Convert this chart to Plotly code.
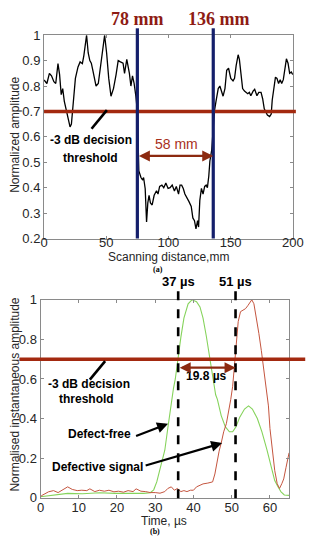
import plotly.graph_objects as go

# ---------------- data: panel (a) ----------------
scan_mm = [0, 2.3, 4.3, 6, 7.9, 9.4, 11.2, 12.5, 13.8, 15, 16.3, 18.9, 20.9, 22, 23.3, 25.2, 27.3, 29,
           30.8, 32, 34.2, 35.5, 36.8, 38, 39.3, 41.8, 43.6, 45, 46.8, 48.7, 50.3, 52, 53.8, 55.8, 57.9,
           59.6, 61.4, 63.5, 64.7, 66.5, 68.6, 69.8, 71.1, 72.4, 73.8, 75, 76.2, 77.9, 79.3, 80, 81.3,
           81.8, 82.4, 83.4, 84.4, 85.5, 86.9, 88.5, 90.4, 91.6, 92.9, 94.7, 96.2, 97.9, 99.7, 101.3,
           103, 104.8, 106.3, 108.1, 109.3, 110.6, 111.9, 113.2, 115, 116.5, 118.3, 119.6, 120.9, 122.1,
           123.4, 124.2, 125.2, 126.5, 127.8, 129.1, 130.3, 131.3, 132.4, 133.3, 134.8, 136, 136.9,
           138.2, 140, 141.3, 142.6, 143.9, 145.4, 146.8, 148.3, 150.1, 151.9, 153.1, 154.4, 156, 157,
           158.3, 159.6, 161.1, 162.4, 163.7, 165, 166.2, 168, 169.3, 171.1, 172.6, 174.4, 175.7, 177,
           178.2, 179.5, 181.3, 182.6, 183.4, 184.7, 186, 187.2, 188.5, 189.8, 191, 192.3, 193.6, 194.8,
           196.1, 197.4, 198.7, 200]
norm_amp = [0.824, 0.81, 0.85, 0.84, 0.817, 0.81, 0.888, 0.845, 0.766, 0.79, 0.74, 0.683, 0.639, 0.65,
            0.72, 0.83, 0.875, 0.895, 0.888, 0.92, 1.0, 0.93, 0.9, 0.89, 0.86, 0.8, 0.81, 0.865, 0.935,
            1.0, 0.93, 0.83, 0.76, 0.79, 0.845, 0.9, 0.895, 0.89, 0.85, 0.905, 0.85, 0.8, 0.84, 0.81,
            0.76, 0.7, 0.466, 0.44, 0.43, 0.44, 0.396, 0.307, 0.265, 0.34, 0.37, 0.34, 0.332, 0.37, 0.388,
            0.375, 0.405, 0.41, 0.4, 0.418, 0.397, 0.4, 0.41, 0.387, 0.405, 0.375, 0.41, 0.41, 0.397,
            0.375, 0.355, 0.345, 0.326, 0.281, 0.27, 0.238, 0.27, 0.245, 0.35, 0.397, 0.375, 0.405, 0.41,
            0.4, 0.445, 0.505, 0.55, 0.62, 0.7, 0.74, 0.79, 0.8, 0.78, 0.76, 0.79, 0.862, 0.87, 0.83,
            0.82, 0.83, 0.88, 0.923, 0.905, 0.845, 0.79, 0.78, 0.775, 0.77, 0.775, 0.762, 0.78, 0.787,
            0.762, 0.775, 0.775, 0.75, 0.71, 0.7, 0.686, 0.68, 0.69, 0.745, 0.8, 0.835, 0.83, 0.81, 0.825,
            0.81, 0.825, 0.87, 0.907, 0.89, 0.85, 0.855, 0.845]
boundary_mm = [75, 136]
boundary_labels = ["78 mm", "136 mm"]
width_label_a = "58 mm"
threshold = 0.7

# ---------------- data: panel (b) ----------------
t_free = [0, 3, 7.1, 11, 15.4, 19.5, 23.8, 27, 28.7, 29.6, 30.4, 31.25, 32.5, 33.35, 34.2, 34.75, 35.25,
          35.85, 36.7, 37.5, 38.6, 39.6, 40.8, 41.7, 42.5, 43.35, 44.2, 45, 45.8, 46.25, 47.25, 48.35,
          49.4, 50.25, 51.1, 52.1, 53.35, 54.4, 55.4, 56.7, 57.9, 59.2, 60.4, 61.25, 62.1, 62.9, 63.75, 65]
amp_free = [0.005, 0.012, 0.022, 0.02, 0.025, 0.022, 0.02, 0.022, 0.025, 0.04, 0.08, 0.14, 0.24, 0.36,
            0.48, 0.55, 0.6, 0.7, 0.81, 0.907, 0.98, 1.0, 0.99, 0.964, 0.907, 0.817, 0.71, 0.596, 0.52,
            0.497, 0.415, 0.358, 0.333, 0.333, 0.358, 0.407, 0.448, 0.464, 0.448, 0.4, 0.333, 0.243,
            0.153, 0.087, 0.055, 0.03, 0.014, 0.012]
t_defect = [0, 0.4, 2.1, 3.4, 4.6, 5.8, 7.1, 8.3, 9.6, 10.8, 12.1, 12.9, 14.2, 15.4, 16.7, 17.9, 19.2,
            20.4, 21.7, 22.9, 24.2, 25, 26.25, 27.5, 28.7, 30, 31.25, 32.5, 33.3, 34.2, 35, 35.8, 36.7,
            37.5, 38.3, 39.2, 40, 40.8, 41.7, 42.5, 43.75, 45, 45.6, 46.1, 46.7, 47.25, 47.9, 48.6, 49.2,
            49.75, 50.25, 50.85, 51.25, 51.7, 52.3, 52.9, 53.6, 54.2, 54.8, 55.25, 55.8, 56.4, 57.1,
            57.75, 58.35, 58.9, 59.6, 60, 60.6, 61.25, 61.9, 62.5, 63.1, 63.6, 64.2, 64.6, 65]
amp_defect = [0.005, 0.012, 0.03, 0.036, 0.026, 0.038, 0.055, 0.042, 0.036, 0.038, 0.036, 0.045, 0.031,
              0.038, 0.033, 0.038, 0.03, 0.033, 0.028, 0.036, 0.031, 0.045, 0.033, 0.031, 0.026, 0.026,
              0.023, 0.031, 0.047, 0.055, 0.038, 0.047, 0.031, 0.036, 0.031, 0.038, 0.038, 0.055, 0.063,
              0.07, 0.074, 0.08, 0.12, 0.178, 0.235, 0.276, 0.333, 0.374, 0.43, 0.497, 0.563, 0.694,
              0.81, 0.89, 0.94, 0.947, 0.955, 0.97, 0.99, 1.0, 0.98, 0.92, 0.83, 0.743, 0.66, 0.58,
              0.464, 0.35, 0.235, 0.137, 0.071, 0.047, 0.071, 0.095, 0.153, 0.2, 0.227]
edge_us = [36, 51]
edge_labels = ["37 \u00b5s", "51 \u00b5s"]
width_label_b = "19.8 \u00b5s"

# ---------------- figure ----------------
W, H = 322, 550
def px(v):
    return v / W
def py(v):
    return 1 - v / H

AX = dict(left_a=42, right_a=303, top_a=29, bot_a=238,
          left_b=38.3, right_b=299, top_b=301, bot_b=504.5)

RED = "#a3290f"
NAVY = "#141f6b"
TXT = "#262626"
FRAME = "#8a8a8a"
SANS = "Liberation Sans"
SERIF = "Liberation Serif"

fig = go.Figure()
fig.add_trace(go.Scatter(x=scan_mm, y=norm_amp, mode="lines",
                         line=dict(color="black", width=1.3), xaxis="x", yaxis="y",
                         showlegend=False, hoverinfo="skip"))
fig.add_trace(go.Scatter(x=t_free, y=amp_free, mode="lines",
                         line=dict(color="#86d35c", width=1.1), xaxis="x2", yaxis="y2",
                         showlegend=False, hoverinfo="skip"))
fig.add_trace(go.Scatter(x=t_defect, y=amp_defect, mode="lines",
                         line=dict(color="#c4553f", width=1.0), xaxis="x2", yaxis="y2",
                         showlegend=False, hoverinfo="skip"))

axis_common = dict(showgrid=False, zeroline=False, showline=True, linecolor=FRAME, linewidth=1,
                   mirror="ticks", ticks="inside", ticklen=3, tickcolor=FRAME,
                   tickfont=dict(family=SANS, size=13, color=TXT))

fig.update_layout(
    width=W, height=H, margin=dict(l=0, r=0, t=0, b=0),
    paper_bgcolor="white", plot_bgcolor="white",
    xaxis=dict(domain=[px(AX["left_a"]), px(AX["right_a"])], range=[0, 200], tickvals=[0, 50, 100, 150, 200],
               anchor="y", ticklabelstandoff=-8, **axis_common),
    yaxis=dict(domain=[py(AX["bot_a"]), py(AX["top_a"])], range=[0.2, 1],
               tickvals=[0.2, 0.3, 0.4, 0.5, 0.6, 0.7, 0.8, 0.9, 1],
               ticktext=["0.2", "0.3", "0.4", "0.5", "0.6", "0.7", "0.8", "0.9", "1"],
               anchor="x", **axis_common),
    xaxis2=dict(domain=[px(AX["left_b"]), px(AX["right_b"])], range=[0, 65], tickvals=[0, 10, 20, 30, 40, 50, 60],
                anchor="y2", ticklabelstandoff=-2, **axis_common),
    yaxis2=dict(domain=[py(AX["bot_b"]), py(AX["top_b"])], range=[0, 1],
                tickvals=[0, 0.2, 0.4, 0.6, 0.8, 1], ticktext=["0", "0.2", "0.4", "0.6", "0.8", "1"],
                anchor="x2", **axis_common),
)

shapes = []
# threshold lines
shapes.append(dict(type="line", xref="x domain", yref="y", x0=0, x1=1.012, y0=threshold, y1=threshold,
                   line=dict(color=RED, width=3.5)))
shapes.append(dict(type="line", xref="x2 domain", yref="y2", x0=-0.085, x1=1.065, y0=threshold, y1=threshold,
                   line=dict(color=RED, width=3.5)))
# boundary verticals (a)
for b in boundary_mm:
    shapes.append(dict(type="line", xref="x domain", yref="y domain", x0=b / 200, x1=b / 200,
                       y0=0, y1=1.034, line=dict(color=NAVY, width=3.2)))
# dashed verticals (b)
for e in edge_us:
    shapes.append(dict(type="line", xref="x2 domain", yref="y2 domain", x0=e / 65, x1=e / 65,
                       y0=-0.003, y1=1.07, line=dict(color="black", width=2.6, dash="dash")))
# leader lines for threshold labels
shapes.append(dict(type="line", xref="x", yref="y", x0=38.2, y0=0.632, x1=50.5, y1=0.705,
                   line=dict(color="black", width=2.6)))
shapes.append(dict(type="line", xref="x2", yref="y2", x0=12.9, y0=0.597, x1=16.9, y1=0.69,
                   line=dict(color="black", width=2.6)))
fig.update_layout(shapes=shapes)

ann = []
def text(x, y, s, size=12, color="black", family=SANS, bold=False, xref="paper", yref="paper", angle=0):
    ann.append(dict(x=x, y=y, xref=xref, yref=yref, text=("<b>%s</b>" % s) if bold else s,
                    showarrow=False, textangle=angle, xanchor="center", yanchor="middle",
                    font=dict(family=family, size=size, color=color)))

# boundary labels
text(px(140), py(12), boundary_labels[0], size=18, color="#8e1c14", family=SERIF, bold=True)
text(px(225), py(12), boundary_labels[1], size=18, color="#8e1c14", family=SERIF, bold=True)
# 58 mm
text(px(180.5), py(141), width_label_a, size=14, color="#a8301c")
ann.append(dict(x=boundary_mm[1], y=0.525, ax=boundary_mm[0], ay=0.525, xref="x", yref="y",
                axref="x", ayref="y", showarrow=True, arrowhead=2, arrowsize=1, arrowwidth=2.2,
                arrowside="end+start", arrowcolor="#8c2a10", text=""))
# threshold text (a)
text(px(91.5), py(137), "-3 dB decision", size=12, bold=True)
text(px(91), py(155), "threshold", size=12, bold=True)
# axis titles (a)
text(px(12), py(131), "Normalized amplitude", size=12, color=TXT, angle=-90)
text(px(172.5), py(257), "Scanning distance,mm", size=12, color=TXT)
text(px(161), py(270), "(a)", size=8, family=SERIF, bold=True)

# panel (b) labels
text(px(183), py(282), edge_labels[0], size=13, bold=True)
text(px(242.5), py(282), edge_labels[1], size=13, bold=True)
text(px(212.5), py(379), width_label_b, size=12, bold=True)
ann.append(dict(x=edge_us[1], y=0.657, ax=edge_us[0], ay=0.657, xref="x2", yref="y2",
                axref="x2", ayref="y2", showarrow=True, arrowhead=2, arrowsize=1, arrowwidth=2.2,
                arrowside="end+start", arrowcolor="#8c2a10", text=""))
text(px(89), py(388), "-3 dB decision", size=12, bold=True)
text(px(87), py(403), "threshold", size=12, bold=True)
text(px(100), py(439), "Defect-free", size=12, bold=True)
text(px(98.5), py(473), "Defective signal", size=12, bold=True)
ann.append(dict(x=33.35, y=0.374, ax=24.6, ay=0.309, xref="x2", yref="y2", axref="x2", ayref="y2",
                showarrow=True, arrowhead=2, arrowsize=1, arrowwidth=2.2, arrowcolor="black", text=""))
ann.append(dict(x=47.5, y=0.276, ax=27.1, ay=0.161, xref="x2", yref="y2", axref="x2", ayref="y2",
                showarrow=True, arrowhead=2, arrowsize=1, arrowwidth=2.2, arrowcolor="black", text=""))
text(px(12), py(398), "Normalised instantaneous amplitude", size=12, color=TXT, angle=-90)
text(px(167.5), py(528), "Time, \u00b5s", size=12, color=TXT)
text(px(158), py(539), "(b)", size=8, family=SERIF, bold=True)

fig.update_layout(annotations=ann, hovermode=False)
fig.write_html("out.html", config={"displayModeBar": False},
               post_script="document.body.style.margin='0';document.body.style.padding='0';")
